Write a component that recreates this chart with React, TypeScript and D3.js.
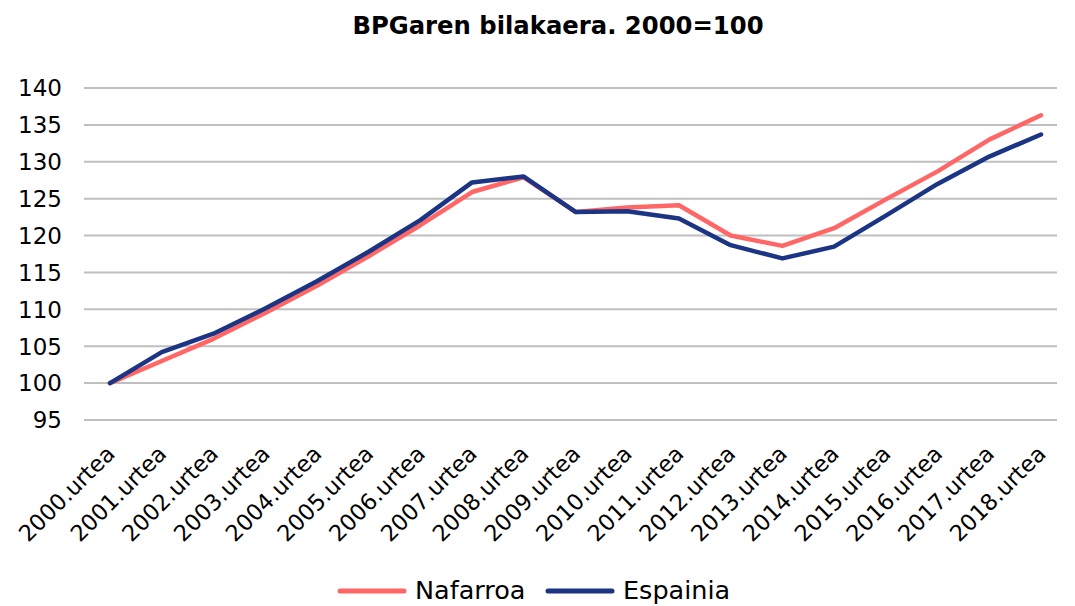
import { useEffect, useRef } from 'react';
import * as d3 from 'd3';

// years on the x axis
const years = [
  '2000', '2001', '2002', '2003', '2004', '2005', '2006', '2007', '2008', '2009',
  '2010', '2011', '2012', '2013', '2014', '2015', '2016', '2017', '2018',
];
const nafarroa = [
  100, 103.0, 106.0, 109.5, 113.2, 117.2, 121.4, 125.9, 127.9, 123.2,
  123.8, 124.1, 120.0, 118.6, 121.0, 124.9, 128.7, 133.0, 136.3,
];
const espainia = [
  100, 104.2, 106.7, 110.1, 113.8, 117.8, 122.1, 127.2, 128.0, 123.2,
  123.3, 122.3, 118.7, 116.9, 118.5, 122.7, 127.0, 130.7, 133.7,
];
const yTicks = [95, 100, 105, 110, 115, 120, 125, 130, 135, 140];

const series = [
  { name: 'Nafarroa', values: nafarroa, color: '#ff6666' },
  { name: 'Espainia', values: espainia, color: '#1b3584' },
];

const FONT = '"DejaVu Sans", sans-serif';

export default function App() {
  const svgRef = useRef<SVGSVGElement>(null);

  useEffect(() => {
    const width = 1075;
    const height = 606;
    const svg = d3.select(svgRef.current);
    svg.selectAll('*').remove();
    svg.attr('width', width).attr('height', height);

    const x = d3.scalePoint<string>().domain(years).range([110, 1041]);
    const y = d3.scaleLinear().domain([95, 140]).range([420, 88]);

    svg.append('text')
      .attr('x', 558)
      .attr('y', 34)
      .attr('text-anchor', 'middle')
      .attr('font-family', FONT)
      .attr('font-weight', 700)
      .attr('font-size', 24.3)
      .text('BPGaren bilakaera. 2000=100');

    // gridlines
    svg.append('g')
      .selectAll('line')
      .data(yTicks)
      .join('line')
      .attr('x1', 84)
      .attr('x2', 1057)
      .attr('y1', (d) => y(d))
      .attr('y2', (d) => y(d))
      .attr('stroke', '#bfbfbf')
      .attr('stroke-width', 2);

    svg.append('g')
      .selectAll('text')
      .data(yTicks)
      .join('text')
      .attr('x', 62)
      .attr('y', (d) => y(d))
      .attr('dy', '0.36em')
      .attr('text-anchor', 'end')
      .attr('font-family', FONT)
      .attr('font-size', 23)
      .attr('fill', '#000')
      .text((d) => d);

    svg.append('g')
      .selectAll('text')
      .data(years)
      .join('text')
      .attr('transform', (d) => `translate(${(x(d) ?? 0) - 5},${444}) rotate(-45)`)
      .attr('text-anchor', 'end')
      .attr('dy', '0.7em')
      .attr('font-family', FONT)
      .attr('font-size', 22.5)
      .attr('fill', '#000')
      .text((d) => `${d}.urtea`);

    const line = d3.line<number>()
      .x((_, i) => x(years[i]) ?? 0)
      .y((d) => y(d));

    svg.append('g')
      .selectAll('path')
      .data(series)
      .join('path')
      .attr('d', (d) => line(d.values))
      .attr('fill', 'none')
      .attr('stroke', (d) => d.color)
      .attr('stroke-width', 4.5)
      .attr('stroke-linejoin', 'round')
      .attr('stroke-linecap', 'round');

    // legend
    const legend = svg.append('g');
    const lx = [340, 548];
    series.forEach((s, i) => {
      legend.append('line')
        .attr('x1', lx[i])
        .attr('x2', lx[i] + 64)
        .attr('y1', 591)
        .attr('y2', 591)
        .attr('stroke', s.color)
        .attr('stroke-width', 5)
        .attr('stroke-linecap', 'round');
      legend.append('text')
        .attr('x', lx[i] + 75)
        .attr('y', 599)
        .attr('font-family', FONT)
        .attr('font-size', 25.5)
        .text(s.name);
    });
  }, []);

  return (
    <svg
      ref={svgRef}
      style={{ position: 'absolute', left: 0, top: 0, background: '#fff' }}
    />
  );
}
